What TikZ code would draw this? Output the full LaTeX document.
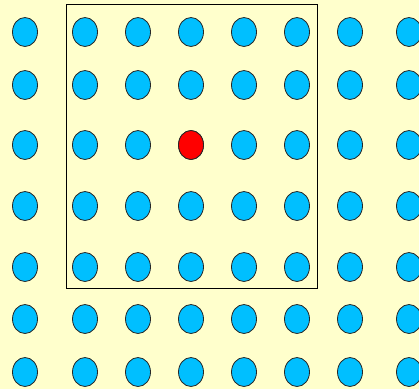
\documentclass[tikz,border=0pt]{standalone}
\usepackage{tikz}
\usetikzlibrary{shapes.geometric}
\definecolor{paleyellow}{RGB}{255, 255, 204}
\definecolor{skyblue}{RGB}{0, 191, 255}

\tikzset{
  cell/.style={ellipse, draw=black!85, line width=0.8pt, fill=skyblue,
               minimum width=25pt, minimum height=29pt, inner sep=0pt},
  hotcell/.style={cell, fill=red}
}

\begin{document}
\begin{tikzpicture}[x=1pt, y=-1pt]
  % background and page size
  \fill[paleyellow] (0,0) rectangle (419,389);
  \useasboundingbox (0,0) rectangle (419,389);
  \clip (0,0) rectangle (419,389);

  % window
  \coordinate (winNW) at (66.5,4);
  \coordinate (winSE) at (317,288);
  \draw[line width=0.8pt] (winNW) rectangle (winSE);

  % grid of cells
  \foreach \px [count=\i] in {25,85,138,191,244,297,350,409} {
    \foreach \py [count=\j] in {32,85,145,206,267,319,372} {
      \node[cell] (c-\i-\j) at (\px,\py) {};
    }
  }
  \node[hotcell] (center) at (c-4-3) {};
\end{tikzpicture}
\end{document}
